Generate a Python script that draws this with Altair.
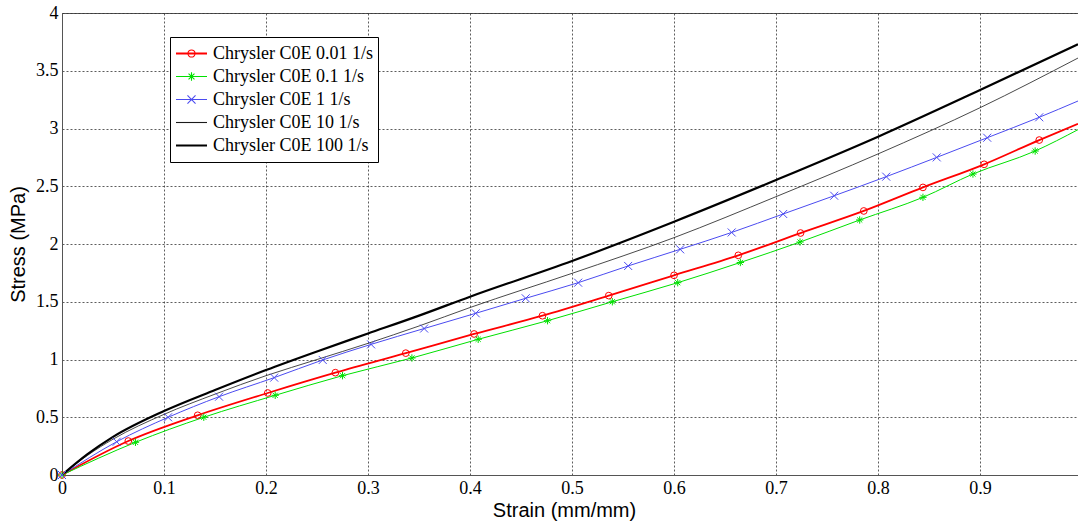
import altair as alt
import pandas as pd

SERIES = ["Chrysler C0E 0.01 1/s", "Chrysler C0E 0.1 1/s", "Chrysler C0E 1 1/s",
          "Chrysler C0E 10 1/s", "Chrysler C0E 100 1/s"]
COLORS = ["#ff0000", "#00e000", "#4b4bf0", "#1a1a1a", "#000000"]
WIDTHS = [1.8, 1.0, 1.0, 0.8, 2.2]

X_END = 0.996

# series with markers (marker positions), plus the line's end value at the right edge
red_x = [0, 0.065, 0.133, 0.2017, 0.268, 0.337, 0.404, 0.471, 0.536, 0.600, 0.663, 0.724, 0.786, 0.844, 0.904, 0.958]
red_y = [0, 0.294, 0.517, 0.71, 0.886, 1.055, 1.221, 1.379, 1.553, 1.729, 1.902, 2.095, 2.286, 2.49, 2.69, 2.90]
red_end = 3.04

green_x = [0, 0.072, 0.139, 0.209, 0.275, 0.343, 0.408, 0.476, 0.5395, 0.6036, 0.665, 0.7235, 0.782, 0.844, 0.893, 0.954]
green_y = [0, 0.283, 0.50, 0.69, 0.86, 1.013, 1.175, 1.336, 1.50, 1.665, 1.84, 2.017, 2.208, 2.404, 2.606, 2.805]
green_end = 2.99

blue_x = [0, 0.0536, 0.104, 0.154, 0.208, 0.2556, 0.303, 0.355, 0.4056, 0.4546, 0.506, 0.555, 0.606, 0.6565, 0.707, 0.757, 0.808, 0.8575, 0.907, 0.958]
blue_y = [0, 0.288, 0.4995, 0.678, 0.843, 0.996, 1.131, 1.268, 1.40, 1.53, 1.665, 1.81, 1.954, 2.10, 2.26, 2.418, 2.583, 2.75, 2.92, 3.097]
blue_end = 3.238

# series without markers
k10_x = [0, 0.025, 0.05, 0.1, 0.15, 0.2, 0.25, 0.3, 0.35, 0.4, 0.5, 0.6, 0.7, 0.8, 0.9, 0.996]
k10_y = [0, 0.17, 0.31, 0.525, 0.70, 0.86, 1.0, 1.14, 1.29, 1.45, 1.746, 2.055, 2.41, 2.78, 3.18, 3.61]

k100_x = [0, 0.025, 0.05, 0.1, 0.15, 0.2, 0.25, 0.3, 0.35, 0.4, 0.5, 0.6, 0.7, 0.8, 0.9, 0.996]
k100_y = [0, 0.18, 0.33, 0.554, 0.736, 0.909, 1.07, 1.225, 1.38, 1.544, 1.853, 2.193, 2.554, 2.929, 3.333, 3.73]

X_TICKS = [0, 0.1, 0.2, 0.3, 0.4, 0.5, 0.6, 0.7, 0.8, 0.9]
Y_TICKS = [0, 0.5, 1, 1.5, 2, 2.5, 3, 3.5, 4]

rows = []
for name, xs, ys, end in [(SERIES[0], red_x, red_y, red_end),
                          (SERIES[1], green_x, green_y, green_end),
                          (SERIES[2], blue_x, blue_y, blue_end)]:
    for x, y in zip(xs, ys):
        rows.append({"strain": x, "stress": y, "series": name, "marker": True})
    rows.append({"strain": X_END, "stress": end, "series": name, "marker": False})
for name, xs, ys in [(SERIES[3], k10_x, k10_y), (SERIES[4], k100_x, k100_y)]:
    for x, y in zip(xs, ys):
        rows.append({"strain": x, "stress": y, "series": name, "marker": False})
df = pd.DataFrame(rows)

ASTERISK = "M-1,0L1,0M0,-1L0,1M-0.7,-0.7L0.7,0.7M-0.7,0.7L0.7,-0.7"
XMARK = "M-1,-1L1,1M-1,1L1,-1"

# legend glyphs (unit coordinates, symbol size 961 -> half width 15.5 px);
# thicker lines are drawn as two close parallel strokes
LEG_PATHS = [
    "M-1,-0.025L1,-0.025M-1,0.025L1,0.025M0.23,0A0.23,0.23,0,1,1,-0.23,0A0.23,0.23,0,1,1,0.23,0",
    "M-1,0L1,0M0,-0.27L0,0.27M-0.19,-0.19L0.19,0.19M-0.19,0.19L0.19,-0.19",
    "M-1,0L1,0M-0.26,-0.26L0.26,0.26M-0.26,0.26L0.26,-0.26",
    "M-1,0L1,0",
    "M-1,-0.035L1,-0.035M-1,0.035L1,0.035",
]
names_js = "[" + ",".join("'" + s + "'" for s in SERIES) + "]"
paths_js = "[" + ",".join("'" + p + "'" for p in LEG_PATHS) + "]"
shape_expr = f"{paths_js}[indexof({names_js}, datum.value)]"

color_scale = alt.Scale(domain=SERIES, range=COLORS)

x_enc = alt.X(
    "strain:Q",
    scale=alt.Scale(domain=[0, X_END], nice=False, zero=False),
    axis=alt.Axis(
        values=X_TICKS, format="~g", title="Strain (mm/mm)",
        labelFont="Liberation Serif", labelFontSize=18, labelColor="black",
        labelPadding=4, labelFlush=False, labelOverlap=False, labelBound=False,
        grid=True, gridDash=[2, 2], gridColor="#333", gridWidth=0.8,
        domainColor="#555", ticks=False,
        titleFont="Liberation Sans", titleFontSize=20, titleFontWeight="normal",
        titleColor="black", titleX=502, titleY=35, titleBaseline="middle",
    ),
)
y_enc = alt.Y(
    "stress:Q",
    scale=alt.Scale(domain=[0, 4], nice=False, zero=False),
    axis=alt.Axis(
        values=Y_TICKS, format="~g", title="Stress (MPa)",
        labelFont="Liberation Serif", labelFontSize=18, labelColor="black",
        labelPadding=4, labelFlush=False, labelOverlap=False, labelBound=False,
        grid=True, gridDash=[2, 2], gridColor="#333", gridWidth=0.8,
        domainColor="#555", ticks=False,
        titleFont="Liberation Sans", titleFontSize=20, titleFontWeight="normal",
        titleColor="black", titleX=-44, titleY=231, titleBaseline="middle",
        titleAlign="center",
    ),
)

legend = alt.Legend(
    title=None, orient="none", legendX=108, legendY=24,
    fillColor="white", strokeColor="black", padding=5,
    labelFont="Liberation Serif", labelFontSize=18, labelColor="black",
    labelOffset=5, symbolSize=961, rowPadding=0, clipHeight=23,
    labelLimit=400,
    symbolType=alt.ExprRef(expr=shape_expr),
    symbolStrokeWidth=1.1,
    symbolFillColor="transparent", symbolOpacity=1,
)

layers = []
for i, (name, w) in enumerate(zip(SERIES, WIDTHS)):
    layer = alt.Chart(df).transform_filter(alt.datum.series == name).mark_line(
        interpolate="monotone", strokeWidth=w
    ).encode(
        x=x_enc if i == 0 else alt.X("strain:Q"),
        y=y_enc if i == 0 else alt.Y("stress:Q"),
        color=alt.Color("series:N", scale=color_scale, legend=legend) if i == 0
        else alt.Color("series:N", scale=color_scale),
    )
    layers.append(layer)

points = alt.Chart(df).transform_filter("datum.marker").mark_point(filled=False, strokeWidth=1, opacity=1).encode(
    x="strain:Q",
    y="stress:Q",
    color=alt.Color("series:N", scale=color_scale),
    shape=alt.Shape("series:N", scale=alt.Scale(domain=SERIES[:3], range=["circle", ASTERISK, XMARK]), legend=None),
    size=alt.Size("series:N", scale=alt.Scale(domain=SERIES[:3], range=[45, 64, 49]), legend=None),
)

chart = alt.layer(*layers, points).properties(
    width=1016, height=462,
    autosize=alt.AutoSizeParams(type="none"),
    padding={"left": 62, "top": 13, "right": 0, "bottom": 46},
    background="white",
).configure_view(stroke="#555", strokeWidth=1)

chart.save("out.html", embed_options={"renderer": "svg", "actions": False})
